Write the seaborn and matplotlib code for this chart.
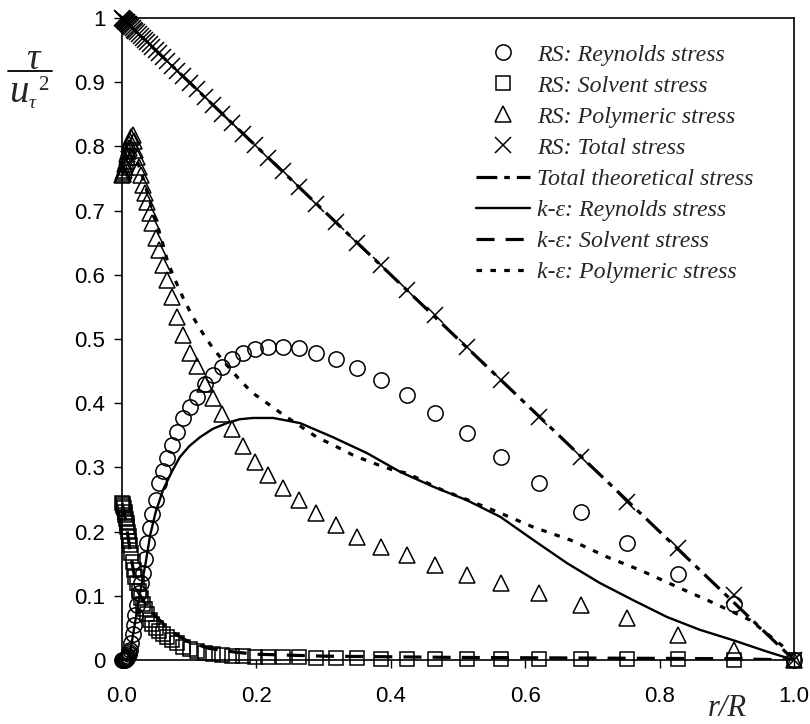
import matplotlib
matplotlib.use("Agg")
import matplotlib.pyplot as plt
from matplotlib.lines import Line2D
import seaborn as sns
import pandas as pd

# ---------------- data ----------------
r_grid = [0.000, 0.001, 0.002, 0.003, 0.004, 0.005, 0.006, 0.007, 0.008, 0.009, 0.010, 0.011, 0.012,
          0.014, 0.016, 0.018, 0.020, 0.022, 0.025, 0.028, 0.031, 0.034, 0.037, 0.041, 0.045, 0.050,
          0.055, 0.061, 0.067, 0.074, 0.082, 0.091, 0.101, 0.111, 0.123, 0.135, 0.149, 0.164, 0.180,
          0.198, 0.218, 0.239, 0.263, 0.289, 0.318, 0.350, 0.385, 0.424, 0.466, 0.513, 0.564, 0.621,
          0.683, 0.752, 0.827, 0.910, 1.000]

rs_reynolds = [0.000, 0.000, 0.000, 0.000, 0.000, 0.001, 0.002, 0.003, 0.005, 0.007, 0.009, 0.012, 0.016,
               0.026, 0.040, 0.055, 0.070, 0.086, 0.105, 0.120, 0.135, 0.158, 0.183, 0.205, 0.228, 0.250,
               0.275, 0.295, 0.315, 0.335, 0.355, 0.377, 0.394, 0.410, 0.430, 0.444, 0.457, 0.469, 0.478,
               0.484, 0.488, 0.488, 0.486, 0.478, 0.469, 0.455, 0.436, 0.413, 0.385, 0.353, 0.316, 0.276,
               0.230, 0.182, 0.134, 0.088, 0.000]

rs_solvent = [0.245, 0.243, 0.240, 0.236, 0.231, 0.226, 0.220, 0.214, 0.207, 0.200, 0.193, 0.186, 0.179,
              0.166, 0.153, 0.140, 0.130, 0.120, 0.108, 0.097, 0.087, 0.079, 0.071, 0.062, 0.056, 0.050,
              0.045, 0.040, 0.036, 0.031, 0.026, 0.021, 0.017, 0.014, 0.011, 0.009, 0.008, 0.007, 0.006,
              0.005, 0.005, 0.004, 0.004, 0.003, 0.003, 0.003, 0.002, 0.002, 0.002, 0.002, 0.001, 0.001,
              0.001, 0.001, 0.001, 0.000, 0.000]

rs_polymeric = [0.755, 0.757, 0.760, 0.764, 0.768, 0.773, 0.778, 0.783, 0.788, 0.793, 0.798, 0.803, 0.808,
                0.815, 0.818, 0.808, 0.795, 0.783, 0.768, 0.755, 0.740, 0.727, 0.713, 0.697, 0.680, 0.657,
                0.638, 0.615, 0.592, 0.565, 0.535, 0.507, 0.478, 0.458, 0.430, 0.408, 0.383, 0.360, 0.334,
                0.308, 0.288, 0.268, 0.249, 0.229, 0.210, 0.192, 0.176, 0.164, 0.148, 0.132, 0.120, 0.104,
                0.086, 0.065, 0.039, 0.016, 0.000]

rs_total = [1.000, 0.999, 0.998, 0.997, 0.996, 0.995, 0.994, 0.993, 0.992, 0.991, 0.990, 0.989, 0.988,
            0.986, 0.984, 0.982, 0.980, 0.978, 0.975, 0.972, 0.969, 0.966, 0.963, 0.959, 0.955, 0.950,
            0.945, 0.939, 0.933, 0.926, 0.918, 0.909, 0.899, 0.889, 0.877, 0.865, 0.851, 0.836, 0.820,
            0.802, 0.782, 0.761, 0.737, 0.711, 0.682, 0.650, 0.615, 0.576, 0.537, 0.488, 0.436, 0.379,
            0.316, 0.246, 0.174, 0.101, 0.000]

theory_r = [0.0, 1.0]
theory_total = [1.0, 0.0]

ke_rey_r = [0.000, 0.008, 0.012, 0.020, 0.027, 0.035, 0.042, 0.050, 0.061, 0.075, 0.086, 0.100, 0.116,
            0.135, 0.156, 0.175, 0.195, 0.225, 0.265, 0.314, 0.365, 0.414, 0.463, 0.513, 0.563, 0.612,
            0.662, 0.711, 0.761, 0.811, 0.860, 0.909, 0.960, 1.000]
ke_rey = [0.000, 0.002, 0.012, 0.062, 0.105, 0.150, 0.195, 0.230, 0.265, 0.295, 0.316, 0.333, 0.347,
          0.360, 0.369, 0.375, 0.377, 0.377, 0.369, 0.347, 0.322, 0.293, 0.270, 0.249, 0.223, 0.187,
          0.151, 0.120, 0.093, 0.067, 0.047, 0.031, 0.013, 0.000]

ke_sol_r = [0.000, 0.005, 0.010, 0.016, 0.022, 0.030, 0.040, 0.050, 0.060, 0.067, 0.080, 0.100, 0.130,
            0.170, 0.200, 0.300, 0.500, 0.700, 0.900, 1.000]
ke_sol = [0.245, 0.220, 0.185, 0.145, 0.110, 0.095, 0.080, 0.068, 0.058, 0.050, 0.040, 0.028, 0.018,
          0.012, 0.009, 0.006, 0.004, 0.003, 0.002, 0.000]

ke_pol_r = [0.000, 0.005, 0.010, 0.015, 0.020, 0.030, 0.040, 0.050, 0.060, 0.068, 0.079, 0.091, 0.104,
            0.119, 0.135, 0.153, 0.173, 0.193, 0.216, 0.240, 0.290, 0.314, 0.344, 0.373, 0.403, 0.424,
            0.476, 0.508, 0.558, 0.612, 0.667, 0.723, 0.771, 0.826, 0.880, 0.935, 0.985, 1.000]
ke_pol = [0.755, 0.775, 0.790, 0.795, 0.785, 0.755, 0.720, 0.685, 0.651, 0.620, 0.592, 0.564, 0.537,
          0.511, 0.486, 0.463, 0.439, 0.417, 0.400, 0.382, 0.347, 0.335, 0.319, 0.307, 0.296, 0.291,
          0.265, 0.252, 0.231, 0.207, 0.187, 0.160, 0.140, 0.114, 0.089, 0.062, 0.020, 0.000]

legend_labels = ["RS: Reynolds stress", "RS: Solvent stress", "RS: Polymeric stress", "RS: Total stress",
                 "Total theoretical stress", "k-\u03b5: Reynolds stress", "k-\u03b5: Solvent stress",
                 "k-\u03b5: Polymeric stress"]

x_ticks = [0.0, 0.2, 0.4, 0.6, 0.8, 1.0]
x_tick_labels = ["0.0", "0.2", "0.4", "0.6", "0.8", "1.0"]
y_ticks = [0.0, 0.1, 0.2, 0.3, 0.4, 0.5, 0.6, 0.7, 0.8, 0.9, 1.0]
y_tick_labels = ["0", "0.1", "0.2", "0.3", "0.4", "0.5", "0.6", "0.7", "0.8", "0.9", "1"]

# ---------------- style ----------------
sns.set_style("ticks")
plt.rcParams["font.family"] = ["Liberation Sans", "DejaVu Sans"]
plt.rcParams["lines.scale_dashes"] = False

W, H = 810, 724
fig = plt.figure(figsize=(W / 100, H / 100), dpi=100)
ax = fig.add_axes([122 / W, 1 - 660 / H, (794 - 122) / W, (660 - 18) / H])

rs_df = pd.DataFrame({"r": r_grid, "rey": rs_reynolds, "sol": rs_solvent,
                      "pol": rs_polymeric, "tot": rs_total})

# lines
sns.lineplot(x=theory_r, y=theory_total, ax=ax, color="black", lw=2.3,
             linestyle=(0, (15, 5, 4, 5)), label=legend_labels[4], errorbar=None, sort=False)
sns.lineplot(x=ke_rey_r, y=ke_rey, ax=ax, color="black", lw=1.7, linestyle="-",
             label=legend_labels[5], errorbar=None, sort=False)
sns.lineplot(x=ke_sol_r, y=ke_sol, ax=ax, color="black", lw=2.3, linestyle=(0, (13, 8)),
             label=legend_labels[6], errorbar=None, sort=False)
sns.lineplot(x=ke_pol_r, y=ke_pol, ax=ax, color="black", lw=2.3, linestyle=(0, (4, 6)),
             label=legend_labels[7], errorbar=None, sort=False)

# RS markers
mk = dict(color="black", linestyle="", markerfacecolor="none", markeredgecolor="black",
          markeredgewidth=1.1, errorbar=None, sort=False, clip_on=False)
sns.lineplot(data=rs_df, x="r", y="rey", ax=ax, marker="o", markersize=11, label=legend_labels[0], **mk)
sns.lineplot(data=rs_df, x="r", y="sol", ax=ax, marker="s", markersize=10, label=legend_labels[1], **mk)
sns.lineplot(data=rs_df, x="r", y="pol", ax=ax, marker="^", markersize=12, label=legend_labels[2], **mk)
sns.lineplot(data=rs_df, x="r", y="tot", ax=ax, marker="x", markersize=11, label=legend_labels[3], **mk)

ax.set_xlim(0, 1)
ax.set_ylim(0, 1)
ax.set_xticks(x_ticks)
ax.set_xticklabels(x_tick_labels)
ax.set_yticks(y_ticks)
ax.set_yticklabels(y_tick_labels)
ax.tick_params(axis="both", direction="out", length=6, width=1, labelsize=16, colors="black")
ax.tick_params(axis="x", pad=13)
ax.tick_params(axis="y", pad=6)
for s in ax.spines.values():
    s.set_visible(True)
    s.set_linewidth(1.2)
    s.set_color("black")
ax.set_xlabel("")
ax.set_ylabel("")

# legend in reference order
handles, labels = ax.get_legend_handles_labels()
hmap = dict(zip(labels, handles))
leg = ax.legend([hmap[l] for l in legend_labels], legend_labels,
                loc="upper left", bbox_to_anchor=(476 / W, 1 - 44 / H), bbox_transform=fig.transFigure,
                frameon=False, borderpad=0, borderaxespad=0, handlelength=2.26, handletextpad=0.3,
                labelspacing=0.39,
                prop={"family": "Liberation Serif", "style": "italic", "size": 17.2})

# axis titles
serif_it = dict(family="Liberation Serif", style="italic")
fig.text(727 / W, 1 - 708 / H, "r/R", ha="center", va="center", fontsize=22, **serif_it)
fig.text(33 / W, 1 - 60 / H, "\u03c4", ha="center", va="center", fontsize=27, **serif_it)
fig.add_artist(Line2D([8 / W, 52 / W], [1 - 71 / H, 1 - 71 / H], transform=fig.transFigure,
                      color="black", lw=1.3))
fig.text(19 / W, 1 - 92 / H, "u", ha="center", va="center", fontsize=28, **serif_it)
fig.text(32 / W, 1 - 104 / H, "\u03c4", ha="center", va="center", fontsize=14, **serif_it)
fig.text(43 / W, 1 - 86 / H, "2", ha="center", va="center", fontsize=15, family="Liberation Serif")

fig.savefig("out.png", dpi=100)
